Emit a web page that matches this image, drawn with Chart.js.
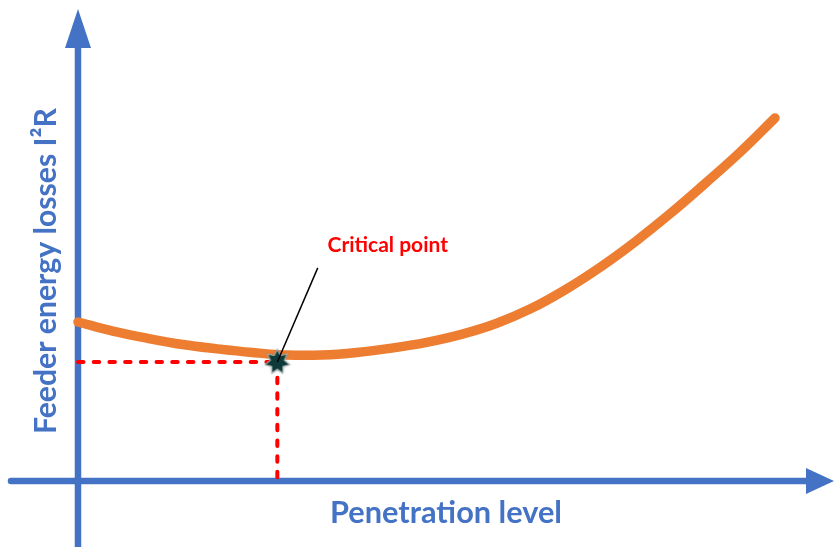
<!DOCTYPE html>
<html>
<head>
<meta charset="utf-8">
<script src="https://cdn.jsdelivr.net/npm/chart.js@4"></script>
<style>
  html, body { margin: 0; padding: 0; background: #ffffff; overflow: hidden; }
  #wrap { width: 835px; height: 547px; position: relative; }
</style>
</head>
<body>
<div id="wrap"><canvas id="c"></canvas></div>
<script>
// ---- data (arbitrary units) ----
const penetration = [0, 5, 10, 15, 20, 25, 30, 35, 40, 45, 50, 55, 60, 65, 70, 75, 80, 85, 90, 95, 100];
const losses = [43.8, 41.3, 39.3, 37.6, 36.4, 35.4, 34.7, 34.7, 35.4, 36.6, 38.2, 40.4, 43.4, 47.5, 52.8, 59.0, 66.0, 73.7, 82.0, 90.6, 100];
const criticalPoint = { x: 28.6, y: 32.8 };
const pointerStart = { x: 34.4, y: 58.7 };
const xTitle = 'Penetration level';
const yTitle = 'Feeder energy losses I\u00B2R';
const annotationText = 'Critical point';

const BLUE = '#4472C4';
const ORANGE = '#ED7D31';
const RED = '#FF0000';

// star image for the critical point
function makeStar() {
  const c = document.createElement('canvas');
  c.width = 32; c.height = 32;
  const g = c.getContext('2d');
  const cx = 16, cy = 16, R = 12.5, r = 7.2, n = 7;
  g.beginPath();
  for (let i = 0; i < 2 * n; i++) {
    const rad = i % 2 === 0 ? R : r;
    const a = -Math.PI / 2 + i * Math.PI / n;
    const px = cx + rad * Math.cos(a), py = cy + rad * Math.sin(a);
    if (i === 0) g.moveTo(px, py); else g.lineTo(px, py);
  }
  g.closePath();
  g.shadowColor = 'rgba(60,70,70,0.45)';
  g.shadowBlur = 3;
  g.fillStyle = '#0E3B3A';
  g.fill();
  g.shadowBlur = 0;
  g.lineWidth = 1.2;
  g.strokeStyle = 'rgba(170,180,180,0.9)';
  g.stroke();
  return c;
}

const axesPlugin = {
  id: 'axesAndText',
  beforeDatasetsDraw(chart) {
    const { ctx, chartArea, scales } = chart;
    const x0 = scales.x.getPixelForValue(0);
    const y0 = scales.y.getPixelForValue(0);
    ctx.save();
    ctx.strokeStyle = BLUE;
    ctx.fillStyle = BLUE;
    ctx.lineWidth = 6.5;
    ctx.lineCap = 'round';
    // horizontal axis
    ctx.beginPath();
    ctx.moveTo(chartArea.left + 11, y0);
    ctx.lineTo(chartArea.right - 20, y0);
    ctx.stroke();
    ctx.beginPath();
    ctx.moveTo(chartArea.right - 1, y0);
    ctx.lineTo(chartArea.right - 29, y0 - 13);
    ctx.lineTo(chartArea.right - 29, y0 + 13);
    ctx.closePath();
    ctx.fill();
    // vertical axis
    ctx.lineCap = 'butt';
    ctx.beginPath();
    ctx.moveTo(x0, chartArea.bottom);
    ctx.lineTo(x0, chartArea.top + 40);
    ctx.stroke();
    ctx.beginPath();
    ctx.moveTo(x0, chartArea.top + 9);
    ctx.lineTo(x0 - 13, chartArea.top + 48);
    ctx.lineTo(x0 + 13, chartArea.top + 48);
    ctx.closePath();
    ctx.fill();

    // axis titles
    ctx.font = 'bold 31px Lato';
    ctx.textAlign = 'center';
    ctx.textBaseline = 'alphabetic';
    ctx.fillText(xTitle, 446, 523, 232);
    ctx.save();
    ctx.translate(56, 271);
    ctx.rotate(-Math.PI / 2);
    ctx.font = 'bold 31px Lato';
    ctx.fillText(yTitle, 0, 0, 326);
    ctx.restore();
    ctx.restore();
  },
  afterDatasetsDraw(chart) {
    const { ctx, scales } = chart;
    const px = scales.x.getPixelForValue(pointerStart.x);
    const py = scales.y.getPixelForValue(pointerStart.y);
    ctx.save();
    ctx.fillStyle = RED;
    ctx.font = 'bold 21px Lato';
    ctx.textAlign = 'center';
    ctx.textBaseline = 'alphabetic';
    ctx.fillText(annotationText, px + 70, py - 16, 122);
    ctx.restore();
  }
};

const dashStyle = {
  borderColor: RED, borderWidth: 4, borderDash: [5.5, 10.2], borderCapStyle: 'round',
  pointRadius: 0, fill: false, tension: 0
};

new Chart(document.getElementById('c'), {
  type: 'line',
  data: {
    datasets: [
      {
        label: 'pointer',
        data: [pointerStart, criticalPoint],
        borderColor: '#000000', borderWidth: 1.5, pointRadius: 0, tension: 0, order: 0
      },
      {
        label: 'critical',
        data: [criticalPoint],
        pointStyle: makeStar(), pointRadius: 12, showLine: false, order: 1
      },
      {
        label: 'losses',
        data: penetration.map((x, i) => ({ x, y: losses[i] })),
        borderColor: ORANGE, borderWidth: 9.5, borderCapStyle: 'round', borderJoinStyle: 'round',
        pointRadius: 0, tension: 0.4, order: 2
      },
      Object.assign({ label: 'hdash', data: [{ x: 0, y: criticalPoint.y }, { x: criticalPoint.x, y: criticalPoint.y }], order: 3 }, dashStyle),
      Object.assign({ label: 'vdash', data: [{ x: criticalPoint.x, y: criticalPoint.y }, { x: criticalPoint.x, y: 0 }], order: 3 }, dashStyle)
    ]
  },
  options: {
    responsive: true,
    maintainAspectRatio: false,
    animation: false,
    layout: { padding: 0, autoPadding: false },
    plugins: { legend: { display: false }, tooltip: { enabled: false }, title: { display: false } },
    scales: {
      x: { type: 'linear', display: false, min: -11.19, max: 108.61 },
      y: { type: 'linear', display: false, min: -18.18, max: 132.5 }
    }
  },
  plugins: [axesPlugin]
});
</script>
</body>
</html>
